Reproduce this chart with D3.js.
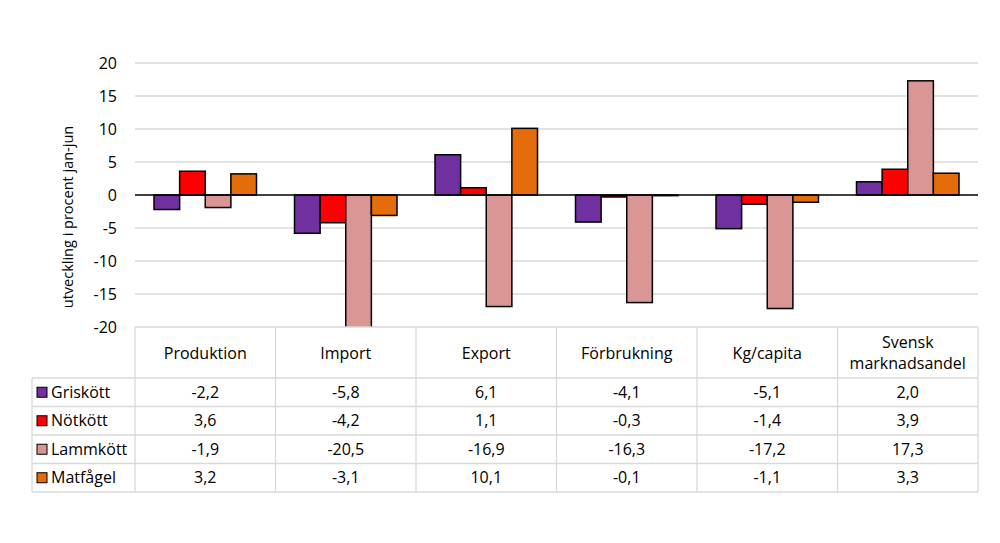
<!DOCTYPE html>
<html>
<head>
<meta charset="utf-8">
<script src="https://cdn.jsdelivr.net/npm/d3@7"></script>
<style>
    body { margin: 0; background: #fff; }
    text { font-family: "Open Sans", "Noto Sans", sans-serif; fill: #000; }
</style>
</head>
<body>
<div id="chart"></div>
<script>
var width = 1000;
var height = 543;

// data
var categories = ["Produktion", "Import", "Export", "Förbrukning", "Kg/capita", "Svensk marknadsandel"];
var seriesNames = ["Griskött", "Nötkött", "Lammkött", "Matfågel"];
var griskott = [-2.2, -5.8, 6.1, -4.1, -5.1, 2.0];
var notkott = [3.6, -4.2, 1.1, -0.3, -1.4, 3.9];
var lammkott = [-1.9, -20.5, -16.9, -16.3, -17.2, 17.3];
var matfagel = [3.2, -3.1, 10.1, -0.1, -1.1, 3.3];
var yTicks = [-20, -15, -10, -5, 0, 5, 10, 15, 20];

var colors = ["#7030a0", "#ff0000", "#d99694", "#e46c0a"];
var series = [griskott, notkott, lammkott, matfagel];

var m = { left: 135, right: 978, top: 63, bottom: 327 };
var legendLeft = 32;
var headerH = 51;
var rowH = 28.5;
var tableFont = "16px";

var svg = d3.select("#chart").append("svg")
    .attr("width", width)
    .attr("height", height);

var x0 = d3.scaleBand()
    .domain(categories)
    .range([m.left, m.right]);

var x1 = d3.scaleBand()
    .domain(seriesNames)
    .range([19, x0.bandwidth() - 19]);

var y = d3.scaleLinear()
    .domain([-20, 20])
    .range([m.bottom, m.top]);

// gridlines
svg.append("g")
    .selectAll("line")
    .data(yTicks.filter(function(d) { return d !== 0 && d !== -20; }))
    .enter().append("line")
    .attr("x1", m.left)
    .attr("x2", m.right)
    .attr("y1", function(d) { return y(d); })
    .attr("y2", function(d) { return y(d); })
    .style("stroke", "#d9d9d9")
    .style("stroke-width", 1.3);

// tick labels
svg.append("g")
    .selectAll("text")
    .data(yTicks)
    .enter().append("text")
    .attr("x", 117)
    .attr("y", function(d) { return y(d); })
    .attr("dy", "0.35em")
    .attr("text-anchor", "end")
    .style("font-size", "16px")
    .text(function(d) { return d; });

// y axis title
svg.append("text")
    .attr("transform", "translate(68,217) rotate(-90)")
    .attr("dy", "0.35em")
    .attr("text-anchor", "middle")
    .style("font-size", "14.5px")
    .text("utveckling i procent jan-jun");

svg.append("clipPath")
    .attr("id", "plotclip")
    .append("rect")
    .attr("x", m.left)
    .attr("y", m.top)
    .attr("width", m.right - m.left)
    .attr("height", m.bottom - m.top);

// bars
var groups = svg.append("g")
    .attr("clip-path", "url(#plotclip)")
    .selectAll("g")
    .data(categories)
    .enter().append("g")
    .attr("transform", function(d) { return "translate(" + x0(d) + ",0)"; });

groups.selectAll("rect")
    .data(function(d, i) {
        return seriesNames.map(function(s, j) {
            return { name: s, value: series[j][i], color: colors[j] };
        });
    })
    .enter().append("rect")
    .attr("x", function(d) { return x1(d.name); })
    .attr("width", x1.bandwidth())
    .attr("y", function(d) { return y(Math.max(0, d.value)); })
    .attr("height", function(d) { return Math.abs(y(d.value) - y(0)); })
    .style("fill", function(d) { return d.color; })
    .style("stroke", "#000")
    .style("stroke-width", 1.5);

// zero line
svg.append("line")
    .attr("x1", m.left)
    .attr("x2", m.right)
    .attr("y1", y(0))
    .attr("y2", y(0))
    .style("stroke", "#000")
    .style("stroke-width", 1.3);

// data table
var table = svg.append("g");
var tTop = m.bottom;
var tBottom = tTop + headerH + rowH * seriesNames.length;
var gridColor = "#d9d9d9";

function hline(x1v, x2v, yv) {
    table.append("line")
        .attr("x1", x1v).attr("x2", x2v)
        .attr("y1", yv).attr("y2", yv)
        .style("stroke", gridColor).style("stroke-width", 1.3);
}
function vline(xv, y1v, y2v) {
    table.append("line")
        .attr("x1", xv).attr("x2", xv)
        .attr("y1", y1v).attr("y2", y2v)
        .style("stroke", gridColor).style("stroke-width", 1.3);
}

hline(m.left, m.right, tTop);
for (var r = 0; r <= seriesNames.length; r++) {
    hline(legendLeft, m.right, tTop + headerH + r * rowH);
}
vline(legendLeft, tTop + headerH, tBottom);
categories.forEach(function(c) { vline(x0(c), tTop, tBottom); });
vline(m.right, tTop, tBottom);

// header labels
categories.forEach(function(c) {
    var cx = x0(c) + x0.bandwidth() / 2;
    if (c === "Svensk marknadsandel") {
        table.append("text")
            .attr("x", cx).attr("y", tTop + 15)
            .attr("dy", "0.35em").attr("text-anchor", "middle")
            .style("font-size", tableFont).text("Svensk");
        table.append("text")
            .attr("x", cx).attr("y", tTop + 36)
            .attr("dy", "0.35em").attr("text-anchor", "middle")
            .style("font-size", tableFont).text("marknadsandel");
    } else {
        table.append("text")
            .attr("x", cx).attr("y", tTop + 26)
            .attr("dy", "0.35em").attr("text-anchor", "middle")
            .style("font-size", tableFont).text(c);
    }
});

// rows
var fmt = function(v) { return v.toFixed(1).replace(".", ","); };
seriesNames.forEach(function(s, j) {
    var cy = tTop + headerH + j * rowH + rowH / 2;
    table.append("rect")
        .attr("x", 37).attr("y", cy - 5)
        .attr("width", 10).attr("height", 10)
        .style("fill", colors[j])
        .style("stroke", "#000").style("stroke-width", 1);
    table.append("text")
        .attr("x", 51).attr("y", cy)
        .attr("dy", "0.35em")
        .style("font-size", tableFont)
        .text(s);
    series[j].forEach(function(v, i) {
        table.append("text")
            .attr("x", x0(categories[i]) + x0.bandwidth() / 2)
            .attr("y", cy)
            .attr("dy", "0.35em")
            .attr("text-anchor", "middle")
            .style("font-size", tableFont)
            .text(fmt(v));
    });
});
</script>
</body>
</html>
